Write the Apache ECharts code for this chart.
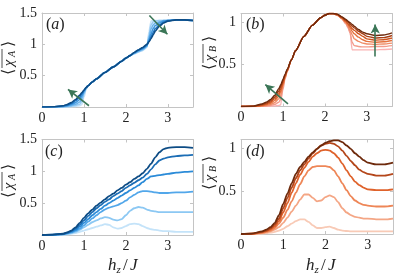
<!DOCTYPE html>
<html><head><meta charset="utf-8">
<script src="https://cdn.jsdelivr.net/npm/echarts@6/dist/echarts.min.js"></script>
<style>html,body{margin:0;padding:0;background:#fff}#c{width:415px;height:280px}</style>
</head><body><div id="c"></div>
<script>
// ---------- data ----------
const xTop = [0,0.3,0.5,0.6,0.7,0.8,0.9,0.95,1.0,1.05,1.1,1.2,1.3,1.5,1.7,1.9,2.0,2.1,2.2,2.3,2.4,2.5,2.55,2.6,2.65,2.7,2.8,2.9,3.0,3.2,3.4,3.6];
// panel (a): darkest A1 ... lightest A6
const A1 = [0,0.005,0.02,0.04,0.07,0.12,0.19,0.23,0.27,0.31,0.34,0.40,0.45,0.55,0.64,0.73,0.78,0.82,0.87,0.91,0.95,1.00,1.04,1.09,1.15,1.21,1.29,1.34,1.37,1.39,1.39,1.38];
const A2 = [0,0.004,0.015,0.03,0.055,0.10,0.16,0.21,0.26,0.31,0.34,0.40,0.45,0.55,0.64,0.73,0.78,0.82,0.87,0.91,0.94,0.99,1.05,1.12,1.19,1.25,1.31,1.35,1.38,1.39,1.39,1.38];
const A3 = [0,0.003,0.01,0.02,0.04,0.07,0.12,0.18,0.25,0.31,0.34,0.40,0.45,0.55,0.64,0.73,0.78,0.82,0.86,0.90,0.93,0.98,1.07,1.17,1.25,1.30,1.34,1.37,1.38,1.39,1.39,1.38];
const A4 = [0,0.002,0.006,0.012,0.025,0.045,0.08,0.14,0.23,0.30,0.34,0.40,0.45,0.55,0.64,0.73,0.78,0.82,0.86,0.89,0.92,0.97,1.10,1.24,1.31,1.34,1.36,1.38,1.38,1.39,1.39,1.38];
const A5 = [0,0.001,0.003,0.006,0.012,0.025,0.045,0.09,0.20,0.29,0.34,0.40,0.45,0.55,0.64,0.73,0.78,0.82,0.85,0.88,0.91,0.96,1.14,1.31,1.36,1.37,1.38,1.38,1.38,1.39,1.39,1.38];
const A6 = [0,0,0.001,0.002,0.005,0.01,0.02,0.04,0.16,0.28,0.34,0.40,0.45,0.55,0.64,0.73,0.78,0.82,0.85,0.88,0.90,0.95,1.20,1.37,1.38,1.38,1.38,1.38,1.38,1.39,1.39,1.38];
// panel (b): darkest B1 ... lightest B7
const B1 = [0,0.005,0.03,0.05,0.08,0.13,0.21,0.26,0.32,0.38,0.44,0.55,0.66,0.83,0.96,1.05,1.08,1.10,1.10,1.09,1.06,1.03,1.01,0.99,0.97,0.95,0.91,0.88,0.86,0.84,0.845,0.87];
const B2 = [0,0.004,0.022,0.04,0.065,0.11,0.18,0.24,0.30,0.37,0.43,0.55,0.66,0.83,0.96,1.05,1.08,1.10,1.10,1.09,1.06,1.02,1.00,0.97,0.95,0.93,0.89,0.86,0.83,0.81,0.815,0.84];
const B3 = [0,0.003,0.015,0.03,0.05,0.09,0.15,0.21,0.28,0.36,0.43,0.55,0.66,0.83,0.96,1.05,1.08,1.10,1.10,1.09,1.05,1.01,0.98,0.95,0.92,0.90,0.86,0.83,0.80,0.785,0.79,0.81];
const B4 = [0,0.002,0.01,0.02,0.035,0.07,0.12,0.18,0.26,0.35,0.42,0.55,0.66,0.83,0.96,1.05,1.08,1.10,1.10,1.08,1.05,1.00,0.97,0.93,0.89,0.86,0.82,0.79,0.77,0.76,0.765,0.78];
const B5 = [0,0.001,0.006,0.012,0.022,0.045,0.09,0.14,0.24,0.34,0.42,0.55,0.66,0.83,0.96,1.05,1.08,1.10,1.10,1.08,1.04,0.99,0.95,0.90,0.85,0.80,0.77,0.75,0.74,0.735,0.74,0.75];
const B6 = [0,0,0.003,0.006,0.012,0.025,0.05,0.09,0.20,0.33,0.41,0.55,0.66,0.83,0.96,1.05,1.08,1.10,1.10,1.08,1.04,0.98,0.94,0.87,0.76,0.72,0.71,0.705,0.705,0.71,0.71,0.72];
const B7 = [0,0,0.001,0.002,0.004,0.007,0.012,0.02,0.32,0.38,0.43,0.55,0.66,0.83,0.96,1.05,1.08,1.10,1.10,1.08,1.04,0.98,0.93,0.88,0.67,0.67,0.67,0.67,0.67,0.67,0.675,0.68];

const xBot = [0,0.25,0.5,0.6,0.7,0.8,0.9,1.0,1.1,1.2,1.3,1.4,1.5,1.6,1.7,1.8,1.9,2.0,2.1,2.2,2.3,2.4,2.5,2.6,2.7,2.8,2.9,3.0,3.2,3.4,3.6];
// panel (c): darkest C1 ... lightest C6
const C1 = [0,0.005,0.02,0.04,0.07,0.12,0.19,0.27,0.34,0.40,0.46,0.51,0.56,0.61,0.65,0.70,0.74,0.79,0.83,0.88,0.92,0.97,1.04,1.12,1.22,1.30,1.35,1.37,1.38,1.38,1.37];
const C2 = [0,0.004,0.018,0.035,0.06,0.10,0.16,0.23,0.30,0.36,0.42,0.47,0.52,0.56,0.61,0.65,0.69,0.74,0.78,0.82,0.86,0.90,0.96,1.03,1.11,1.17,1.20,1.22,1.24,1.25,1.26];
const C3 = [0,0.003,0.015,0.03,0.05,0.08,0.13,0.19,0.25,0.31,0.36,0.41,0.46,0.50,0.54,0.58,0.62,0.66,0.70,0.74,0.78,0.83,0.88,0.92,0.93,0.94,0.95,0.96,0.98,0.99,1.00];
const C4 = [0,0.002,0.012,0.025,0.04,0.065,0.10,0.15,0.21,0.26,0.31,0.36,0.40,0.43,0.45,0.47,0.50,0.54,0.59,0.63,0.67,0.69,0.69,0.68,0.67,0.66,0.66,0.66,0.67,0.67,0.68];
const C5 = [0,0.002,0.01,0.02,0.03,0.05,0.08,0.12,0.16,0.20,0.23,0.26,0.28,0.27,0.24,0.23,0.25,0.31,0.38,0.42,0.44,0.43,0.40,0.38,0.37,0.36,0.36,0.36,0.36,0.36,0.36];
const C6 = [0,0.001,0.005,0.01,0.02,0.03,0.05,0.07,0.09,0.11,0.13,0.15,0.17,0.16,0.12,0.10,0.11,0.14,0.17,0.18,0.17,0.14,0.11,0.09,0.08,0.07,0.06,0.06,0.05,0.05,0.05];
// panel (d): darkest D1 ... lightest D6
const D1 = [0,0.005,0.03,0.05,0.08,0.13,0.22,0.35,0.47,0.59,0.70,0.78,0.84,0.90,0.95,0.99,1.03,1.06,1.08,1.09,1.09,1.07,1.03,0.99,0.94,0.90,0.86,0.83,0.81,0.81,0.83];
const D2 = [0,0.004,0.025,0.04,0.065,0.11,0.18,0.30,0.42,0.54,0.65,0.74,0.81,0.88,0.94,0.99,1.03,1.05,1.06,1.05,1.02,0.97,0.91,0.85,0.80,0.75,0.72,0.70,0.68,0.68,0.70];
const D3 = [0,0.003,0.02,0.035,0.055,0.09,0.15,0.25,0.36,0.48,0.59,0.69,0.77,0.84,0.90,0.94,0.97,0.98,0.97,0.94,0.89,0.82,0.74,0.67,0.61,0.57,0.54,0.52,0.51,0.51,0.52];
const D4 = [0,0.002,0.015,0.025,0.04,0.07,0.12,0.19,0.28,0.38,0.48,0.58,0.67,0.74,0.78,0.79,0.79,0.79,0.78,0.74,0.67,0.59,0.51,0.44,0.39,0.36,0.34,0.33,0.32,0.32,0.33];
const D5 = [0,0.002,0.01,0.018,0.03,0.05,0.08,0.13,0.19,0.26,0.33,0.40,0.46,0.46,0.42,0.38,0.39,0.43,0.45,0.43,0.37,0.30,0.25,0.22,0.20,0.19,0.18,0.18,0.17,0.17,0.18];
const D6 = [0,0.001,0.005,0.01,0.015,0.025,0.04,0.06,0.09,0.12,0.15,0.17,0.17,0.14,0.10,0.07,0.07,0.08,0.085,0.07,0.05,0.04,0.035,0.03,0.03,0.03,0.03,0.03,0.03,0.03,0.03];

// arrows [tail, head]
const arrowsA = [[[1.12,0.02],[0.62,0.28]], [[2.56,1.46],[2.99,1.16]]];
const arrowsB = [[[1.12,0.03],[0.58,0.26]], [[3.2,0.59],[3.2,0.97]]];

// ticks
const xTickVals = [0,1,2,3];
const xTickLabels = ['0','1','2','3'];
const yTickValsA = [0.5,1,1.5];
const yTickLabelsA = ['0.5','1','1.5'];
const yTickValsB = [0.5,1];
const yTickLabelsB = ['0.5','1'];
const panelLetters = ['a','b','c','d'];

// ---------- style ----------
const FONT = '"Liberation Serif","DejaVu Serif",serif';
const AX = '#c4c4c4';
const TXT = '#222';
const blues = ['#0d4c85','#1b6db5','#2b8bd8','#52a7ea','#8cc8f3','#c4e3f9'];
const aBlues = ['#0d4c85','#2076c2','#3f97de','#6ab3ec','#98cbf3','#c6e3f9'];
const oranges = ['#6e2a0c','#b4461a','#df622b','#ee8657','#f4a685','#f8cab6'];
const bOranges = ['#6e2a0c','#a63f16','#cf551f','#e5713d','#ef8c66','#f39c8c','#f9b3b3'];
const ARW = '#3b7657';

const grids = [
  {left:42, top:13, width:151, height:94},
  {left:241, top:13.5, width:151, height:93},
  {left:42, top:139.5, width:151, height:95.5},
  {left:241, top:139.5, width:152, height:94.5}
];
const yMax = [1.5, 1.1, 1.5, 1.1];

const xAxis = [], yAxis = [];
grids.forEach((g, i) => {
  ['bottom','top'].forEach(pos => {
    xAxis.push({
      type:'value', gridIndex:i, position:pos, min:0, max:3.6,
      axisLine:{show:true, onZero:false, lineStyle:{color:AX, width:1}},
      axisTick:{show:true, inside:true, length:3, customValues:xTickVals, lineStyle:{color:AX}},
      axisLabel:{show:pos==='bottom', customValues:xTickVals, margin:4,
        formatter:v=>xTickLabels[xTickVals.indexOf(v)] || '',
        fontFamily:FONT, fontSize:14, color:TXT},
      splitLine:{show:false}
    });
  });
  const yv = (i % 2 === 0) ? yTickValsA : yTickValsB;
  const yl = (i % 2 === 0) ? yTickLabelsA : yTickLabelsB;
  ['left','right'].forEach(pos => {
    yAxis.push({
      type:'value', gridIndex:i, position:pos, min:0, max:yMax[i],
      axisLine:{show:true, onZero:false, lineStyle:{color:AX, width:1}},
      axisTick:{show:true, inside:true, length:3, customValues:yv, lineStyle:{color:AX}},
      axisLabel:{show:pos==='left', customValues:yv, margin:5,
        formatter:v=>yl[yv.indexOf(v)] || '',
        fontFamily:FONT, fontSize:14, color:TXT},
      splitLine:{show:false}
    });
  });
});

const series = [];
function addLines(gi, xs, arrs, colors, width, arrows) {
  // draw lightest first, darkest last
  for (let k = arrs.length - 1; k >= 0; k--) {
    const s = {
      type:'line', xAxisIndex:gi*2, yAxisIndex:gi*2, symbol:'none',
      smooth:0.25, smoothMonotone:'x', silent:true,
      lineStyle:{color:colors[k], width:width},
      data: xs.map((x, j) => [x, arrs[k][j]]),
      z: 2
    };
    if (k === 0 && arrows) {
      s.markLine = {
        silent:true, symbol:['none','arrow'], symbolSize:[7,9],
        label:{show:false}, emphasis:{disabled:true},
        lineStyle:{color:ARW, width:1.6, type:'solid'},
        data: arrows.map(a => [{coord:a[0]}, {coord:a[1]}]),
        z: 5, animation:false
      };
    }
    series.push(s);
  }
}
addLines(0, xTop, [A1,A2,A3,A4,A5,A6], aBlues, 1.6, arrowsA);
addLines(1, xTop, [B1,B2,B3,B4,B5,B6,B7], bOranges, 1.4, arrowsB);
addLines(2, xBot, [C1,C2,C3,C4,C5,C6], blues, 1.8, null);
addLines(3, xBot, [D1,D2,D3,D4,D5,D6], oranges, 1.8, null);

// ---------- text graphics ----------
function panelLabel(x, y, letter) {
  return {type:'text', x:x, y:y, style:{
    text:'{n|(}{i|' + letter + '}{n|)}',
    rich:{n:{fontFamily:FONT, fontSize:16, fill:TXT}, i:{fontFamily:FONT, fontStyle:'italic', fontSize:16, fill:TXT}},
    verticalAlign:'middle', align:'left'}};
}
function yName(cx, cy, sub) {
  const f = (sz, it) => ({fontFamily:FONT, fontSize:sz, fontStyle: it ? 'italic' : 'normal', fill:TXT});
  return {type:'group', x:cx, y:cy, rotation:Math.PI/2, children:[
    {type:'text', x:-15, y:0, style:Object.assign({text:'\u27E8', align:'center', verticalAlign:'middle'}, f(16,false))},
    {type:'text', x:-6, y:0, style:Object.assign({text:'\u03C7', align:'center', verticalAlign:'middle'}, f(15,true))},
    {type:'text', x:3, y:3, style:Object.assign({text:sub, align:'center', verticalAlign:'middle'}, f(10,true))},
    {type:'text', x:13, y:0, style:Object.assign({text:'\u27E9', align:'center', verticalAlign:'middle'}, f(16,false))},
    {type:'line', shape:{x1:-11, y1:-7, x2:8, y2:-7}, style:{stroke:TXT, lineWidth:0.8}}
  ]};
}
function xName(cx, cy) {
  const f = (sz, it) => ({fontFamily:FONT, fontSize:sz, fontStyle: it ? 'italic' : 'normal', fill:TXT});
  return {type:'group', x:cx, y:cy, children:[
    {type:'text', x:-18, y:0, style:Object.assign({text:'h', align:'left', verticalAlign:'middle'}, f(17,true))},
    {type:'text', x:-9.5, y:4, style:Object.assign({text:'z', align:'left', verticalAlign:'middle'}, f(11,true))},
    {type:'text', x:-3, y:0, style:Object.assign({text:'/', align:'left', verticalAlign:'middle'}, f(17,false))},
    {type:'text', x:4, y:0, style:Object.assign({text:'J', align:'left', verticalAlign:'middle'}, f(17,true))}
  ]};
}

const graphic = [
  panelLabel(46, 25, panelLetters[0]),
  panelLabel(246, 25, panelLetters[1]),
  panelLabel(45, 152, panelLetters[2]),
  panelLabel(246, 152, panelLetters[3]),
  yName(9, 57, 'A'),
  yName(210, 52, 'B'),
  yName(9, 180, 'A'),
  yName(210, 172, 'B'),
  xName(126, 266),
  xName(324, 266)
];

const chart = echarts.init(document.getElementById('c'), null, {renderer:'canvas'});
chart.setOption({
  animation:false,
  backgroundColor:'#fff',
  grid:grids,
  xAxis:xAxis,
  yAxis:yAxis,
  series:series,
  graphic:graphic
});
</script></body></html>
